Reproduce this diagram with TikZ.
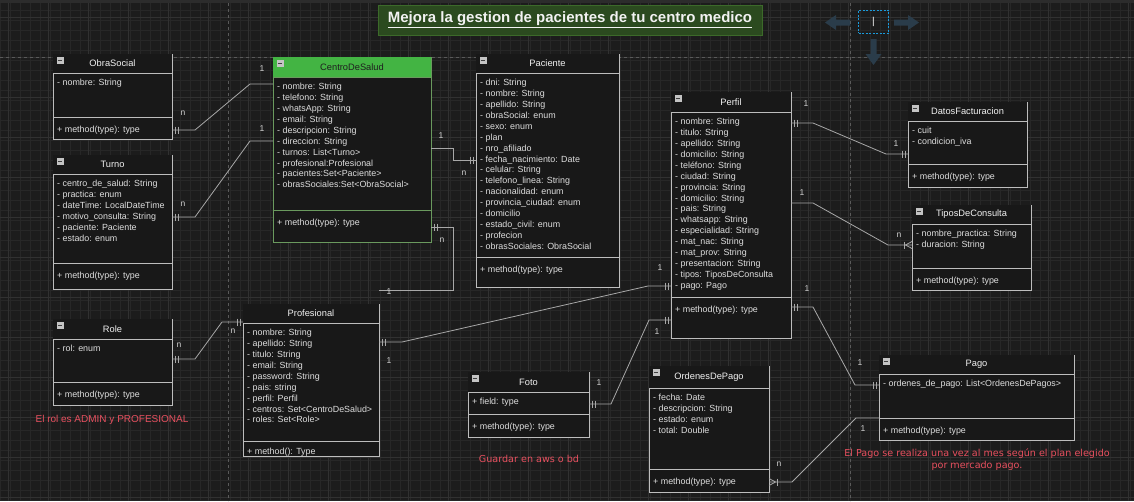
\documentclass[tikz,border=0pt]{standalone}
\usepackage{fontspec}
\setmainfont{Liberation Sans}
\newfontfamily\notefont{DejaVu Sans}
\usetikzlibrary{calc}
\definecolor{bg}{HTML}{1C1C1C}
\definecolor{gridminor}{HTML}{272727}
\definecolor{gridmajor}{HTML}{313131}
\definecolor{topband}{HTML}{2C2C2C}
\definecolor{pagedash}{HTML}{5A5A5A}
\definecolor{boxbg}{HTML}{181818}
\definecolor{boxline}{HTML}{BDBDBD}
\definecolor{greenline}{HTML}{6A9A5E}
\definecolor{hdrgreen}{HTML}{43B443}
\definecolor{txt}{HTML}{DEDEDE}
\definecolor{titletxt}{HTML}{F2F2F2}
\definecolor{conncol}{HTML}{A8A8A8}
\definecolor{lbltxt}{HTML}{D0D0D0}
\definecolor{notered}{HTML}{E8505F}
\definecolor{titlebg}{HTML}{2B4A1F}
\definecolor{titleline}{HTML}{3C6A2A}
\definecolor{widget}{HTML}{2A3C4A}
\definecolor{selblue}{HTML}{1A9BDC}
\definecolor{iconfill}{HTML}{C4C4C4}

\tikzset{
  umlbox/.style={rectangle, fill=boxbg, line width=0.9pt, inner sep=0pt, outer sep=0pt},
  sepline/.style={line width=0.9pt},
  umltitle/.style={font=\fontsize{9.3}{11}\selectfont, inner sep=0pt},
  attrs/.style={font=\fontsize{8.9}{10.87}\selectfont, text=txt, align=left, inner sep=0pt},
  conn/.style={draw=conncol, line width=0.8pt},
  lbl/.style={font=\fontsize{8.5}{9}\selectfont, text=lbltxt, inner sep=0pt},
  note/.style={text=notered, inner sep=0pt, align=center},
  iconbox/.style={rectangle, fill=iconfill, minimum width=7pt, minimum height=6.5pt, inner sep=0pt},
}

\def\hdrcol{boxbg}
\def\titlecol{titletxt}
\def\boxcol{boxline}
\def\methodtxt{+ method(type): type}
\def\methodoff{13.5}

% #1 name, #2 x, #3 y, #4 width, #5 height, #6 header height, #7 separator offset, #8 title, #9 attributes
\newcommand\umlclass[9]{%
  \node[umlbox, draw=\boxcol, minimum width=#4, minimum height=#5, anchor=north west] (#1) at (#2,#3) {};
  \fill[\hdrcol] ($(#1.north west)+(0.45,0.45)$) rectangle ($(#1.north east)+(-0.45,#6)$);
  \draw[sepline, draw=\boxcol] ($(#1.north west)+(0,#6)$) -- ($(#1.north east)+(0,#6)$);
  \draw[sepline, draw=\boxcol] ($(#1.north west)+(0,#7)$) -- ($(#1.north east)+(0,#7)$);
  \node[umltitle, text=\titlecol] (#1-t) at ($(#1.north)+(0,#6/2)$) {#8};
  \node[attrs, anchor=north west] (#1-a) at ($(#1.north west)+(4,#6+6.3)$) {#9};
  \begin{scope}
    \clip ($(#1.north west)+(0,#7)$) rectangle (#1.south east);
    \node[attrs, anchor=west] (#1-m) at ($(#1.north west)+(4,#7+\methodoff)$) {\methodtxt};
  \end{scope}
}
% two bars (mandatory one) near an end; #2 = +1 if line leaves to the right, -1 to the left
\newcommand\mone[2]{%
  \draw[conn] ($(#1)+(#2*3,-3.5)$) -- ++(0,7);
  \draw[conn] ($(#1)+(#2*6,-3.5)$) -- ++(0,7);
}
% crow's foot with bar
\newcommand\cmany[2]{%
  \draw[conn] ($(#1)+(0,-3.5)$) -- ($(#1)+(#2*6.5,0)$) -- ($(#1)+(0,3.5)$);
  \draw[conn] ($(#1)+(#2*8,-3.5)$) -- ++(0,7);
}

\begin{document}
\begin{tikzpicture}[x=1pt, y=-1pt]
\useasboundingbox (0,0) rectangle (1134,501);
\fill[bg] (0,0) rectangle (1134,501);
\foreach \gx in {0,10,...,1130} \draw[gridminor, line width=0.4pt] (\gx,0) -- (\gx,501);
\foreach \gy in {0,10,...,500} \draw[gridminor, line width=0.4pt] (0,\gy) -- (1134,\gy);
\foreach \gx in {8,48,...,1130} \draw[gridmajor, line width=0.5pt] (\gx,0) -- (\gx,501);
\foreach \gy in {17,57,...,500} \draw[gridmajor, line width=0.5pt] (0,\gy) -- (1134,\gy);
\fill[topband] (0,0) rectangle (1134,3);
\draw[pagedash, dash pattern=on 3pt off 3pt, line width=0.6pt] (0,57) -- (1134,57);
\draw[pagedash, dash pattern=on 3pt off 3pt, line width=0.6pt] (228,3) -- (228,501);
\draw[pagedash, dash pattern=on 3pt off 3pt, line width=0.6pt] (850,3) -- (850,501);

% title
\node[rectangle, draw=titleline, fill=titlebg, line width=0.8pt, minimum width=384pt, minimum height=30pt, inner sep=0pt] (title) at (570,20)
  {\fontsize{15}{17}\selectfont\bfseries\color{titletxt}\underline{Mejora la gestion de pacientes de tu centro medico}};

% hover widget
\fill[widget] (825,22.5) -- (836,15) -- (836,19.5) -- (850,19.5) -- (850,25.5) -- (836,25.5) -- (836,30) -- cycle;
\fill[widget] (919,22.5) -- (908,15) -- (908,19.5) -- (894,19.5) -- (894,25.5) -- (908,25.5) -- (908,30) -- cycle;
\fill[widget] (873.5,65) -- (865.5,54) -- (870.5,54) -- (870.5,39) -- (876.5,39) -- (876.5,54) -- (881.5,54) -- cycle;
\node[rectangle, draw=selblue, dash pattern=on 2pt off 1.5pt, line width=0.7pt, minimum width=30pt, minimum height=23pt, inner sep=0pt, font=\fontsize{10}{12}\selectfont, text=white] (sel) at (873.5,21.5) {|};

% classes
\umlclass{obra}{53}{54}{119}{85}{19}{63}{ObraSocial}{- nombre: String}
\umlclass{turno}{53}{155}{119}{134}{19}{108}{Turno}{- centro\_de\_salud: String\\- practica: enum\\- dateTime: LocalDateTime\\- motivo\_consulta: String\\- paciente: Paciente\\- estado: enum}
\def\hdrcol{hdrgreen}\def\titlecol{black!88}\def\boxcol{greenline}
\umlclass{centro}{273}{57}{158}{185}{20}{153}{CentroDeSalud}{- nombre: String\\- telefono: String\\- whatsApp: String\\- email: String\\- descripcion: String\\- direccion: String\\- turnos: List<Turno>\\- profesional:Profesional\\- pacientes:Set<Paciente>\\- obrasSociales:Set<ObraSocial>}
\def\hdrcol{boxbg}\def\titlecol{titletxt}\def\boxcol{boxline}
\umlclass{paciente}{476}{54}{143}{233}{19}{203}{Paciente}{- dni: String\\- nombre: String\\- apellido: String\\- obraSocial: enum\\- sexo: enum\\- plan\\- nro\_afiliado\\- fecha\_nacimiento: Date\\- celular: String\\- telefono\_linea: String\\- nacionalidad: enum\\- provincia\_ciudad: enum\\- domicilio\\- estado\_civil: enum\\- profecion\\- obrasSociales: ObraSocial}
\umlclass{perfil}{671}{92}{120}{246}{20}{205}{Perfil}{- nombre: String\\- titulo: String\\- apellido: String\\- domicilio: String\\- teléfono: String\\- ciudad: String\\- provincia: String\\- domicilio: String\\- pais: String\\- whatsapp: String\\- especialidad: String\\- mat\_nac: String\\- mat\_prov: String\\- presentacion: String\\- tipos: TiposDeConsulta\\- pago: Pago}
\umlclass{datos}{908}{102}{119}{85}{19}{62}{DatosFacturacion}{- cuit\\- condicion\_iva}
\umlclass{tipos}{912}{205}{119}{85}{19}{63}{TiposDeConsulta}{- nombre\_practica: String\\- duracion: String}
\umlclass{role}{53}{319}{119}{86}{20}{63}{Role}{- rol: enum}
\def\methodtxt{+ method(): Type}\def\methodoff{11}
\umlclass{prof}{243}{304}{136}{152}{19}{137}{Profesional}{- nombre: String\\- apellido: String\\- titulo: String\\- email: String\\- password: String\\- pais: string\\- perfil: Perfil\\- centros: Set<CentroDeSalud>\\- roles: Set<Role>}
\def\methodtxt{+ method(type): type}\def\methodoff{13.5}
\umlclass{foto}{468}{372}{121}{65}{20}{42}{Foto}{+ field: type}
\umlclass{ordenes}{649}{366}{120}{126}{22}{103}{OrdenesDePago}{- fecha: Date\\- descripcion: String\\- estado: enum\\- total: Double}
\umlclass{pago}{879}{355}{195}{85}{19}{63}{Pago}{- ordenes\_de\_pago: List<OrdenesDePagos>}

% collapse icons
\foreach \n in {obra,turno,centro,paciente,perfil,datos,tipos,role,foto,ordenes,pago} {
  \node[iconbox] (\n-icon) at ($(\n.north west)+(7,6.5)$) {};
  \draw[black!75, line width=0.8pt] ($(\n-icon.west)+(1.5,0)$) -- ($(\n-icon.east)+(-1.5,0)$);
}

% connectors
% ObraSocial - CentroDeSalud
\coordinate (c1a) at ($(obra.north east)+(0,76)$);
\coordinate (c1b) at ($(centro.north west)+(0,27)$);
\draw[conn] (c1a) -- ++(23,0) -- ($(c1b)+(-23,0)$) -- (c1b);
\mone{c1a}{1}
\node[lbl] (l1a) at ($(c1a)+(11,-17)$) {n};
\node[lbl] (l1b) at ($(c1b)+(-11,-15)$) {1};
% Turno - CentroDeSalud
\coordinate (c2a) at ($(turno.north east)+(0,62)$);
\coordinate (c2b) at ($(centro.north west)+(0,84)$);
\draw[conn] (c2a) -- ++(23,0) -- ($(c2b)+(-23,0)$) -- (c2b);
\mone{c2a}{1}
\node[lbl] (l2a) at ($(c2a)+(11,-13)$) {n};
\node[lbl] (l2b) at ($(c2b)+(-11,-12)$) {1};
% CentroDeSalud - Paciente
\coordinate (c3a) at ($(centro.north east)+(0,91)$);
\coordinate (c3b) at ($(paciente.north west)+(0,106)$);
\draw[conn] (c3a) -- ++(22,0) -- ($(c3b)+(-23,0)$) -- (c3b);
\mone{c3b}{-1}
\node[lbl] (l3a) at ($(c3a)+(10,-12)$) {1};
\node[lbl] (l3b) at ($(c3b)+(-12,13)$) {n};
% CentroDeSalud - Profesional
\coordinate (c4a) at ($(centro.north east)+(0,170)$);
\coordinate (c4b) at ($(prof.north east)+(0,-14)$);
\draw[conn] (c4a) -- ++(22,0) |- (c4b);
\mone{c4a}{1}
\node[lbl] (l4a) at ($(c4a)+(11,13)$) {n};
\node[lbl] (l4b) at ($(prof.north east)+(10,-12)$) {1};
% Profesional - Perfil
\coordinate (c5a) at ($(prof.north east)+(0,38)$);
\coordinate (c5b) at ($(perfil.north west)+(0,194)$);
\draw[conn] (c5a) -- ++(23,0) -- ($(c5b)+(-23,0)$) -- (c5b);
\mone{c5a}{1}
\mone{c5b}{-1}
\node[lbl] (l5a) at ($(c5a)+(10,19)$) {1};
\node[lbl] (l5b) at ($(c5b)+(-11,-18)$) {1};
% Foto - Perfil
\coordinate (c6a) at ($(foto.north east)+(0,32)$);
\coordinate (c6b) at ($(perfil.north west)+(0,228)$);
\draw[conn] (c6a) -- ++(22,0) -- ($(c6b)+(-22,0)$) -- (c6b);
\mone{c6a}{1}
\mone{c6b}{-1}
\node[lbl] (l6a) at ($(c6a)+(10,-21)$) {1};
\node[lbl] (l6b) at ($(c6b)+(-14,12)$) {1};
% Perfil - DatosFacturacion
\coordinate (c7a) at ($(perfil.north east)+(0,31)$);
\coordinate (c7b) at ($(datos.north west)+(0,52)$);
\draw[conn] (c7a) -- ++(22,0) -- ($(c7b)+(-22,0)$) -- (c7b);
\mone{c7a}{1}
\mone{c7b}{-1}
\node[lbl] (l7a) at ($(c7a)+(15,-19)$) {1};
\node[lbl] (l7b) at ($(c7b)+(-12,-10)$) {1};
% Perfil - TiposDeConsulta
\coordinate (c8a) at ($(perfil.north east)+(0,111)$);
\coordinate (c8b) at ($(tipos.north west)+(0,40)$);
\draw[conn] (c8a) -- ++(22,0) -- ($(c8b)+(-24,0)$) -- (c8b);
\cmany{c8b}{-1}
\node[lbl] (l8a) at ($(c8a)+(11,-10)$) {1};
\node[lbl] (l8b) at ($(c8b)+(-13,-10)$) {n};
% Perfil - Pago
\coordinate (c9a) at ($(perfil.north east)+(0,215)$);
\coordinate (c9b) at ($(pago.north west)+(0,30)$);
\draw[conn] (c9a) -- ++(22,0) -- ($(c9b)+(-24,0)$) -- (c9b);
\mone{c9a}{1}
\mone{c9b}{-1}
\node[lbl] (l9a) at ($(c9a)+(16,-18)$) {1};
\node[lbl] (l9b) at ($(c9b)+(-19,-22)$) {1};
% OrdenesDePago - Pago
\coordinate (c10a) at ($(ordenes.north east)+(0,116)$);
\coordinate (c10b) at ($(pago.north west)+(0,63)$);
\draw[conn] (c10a) -- ++(23,0) -- ($(c10b)+(-23,0)$) -- (c10b);
\cmany{c10a}{1}
\node[lbl] (l10a) at ($(c10a)+(10,-18)$) {n};
\node[lbl] (l10b) at ($(c10b)+(-16,11)$) {1};
% Role - Profesional
\coordinate (c11a) at ($(role.north east)+(0,40)$);
\coordinate (c11b) at ($(prof.north west)+(0,18)$);
\draw[conn] (c11a) -- ++(23,0) -- ($(c11b)+(-21,0)$) -- (c11b);
\mone{c11a}{1}
\mone{c11b}{-1}
\node[lbl] (l11a) at ($(c11a)+(7,-14)$) {n};
\node[lbl] (l11b) at ($(c11b)+(-10,9)$) {n};

% notes
\node[note, font=\fontsize{10}{12}\selectfont] (noterol) at (112,420) {El rol es ADMIN y PROFESIONAL};
\node[note, font=\notefont\fontsize{9.6}{11}\selectfont] (notefoto) at (529,459) {Guardar en aws o bd};
\node[note, font=\notefont\fontsize{9.6}{12}\selectfont] (notepago) at (977,460) {El Pago se realiza una vez al mes según el plan elegido\\por mercado pago.};
\end{tikzpicture}
\end{document}
